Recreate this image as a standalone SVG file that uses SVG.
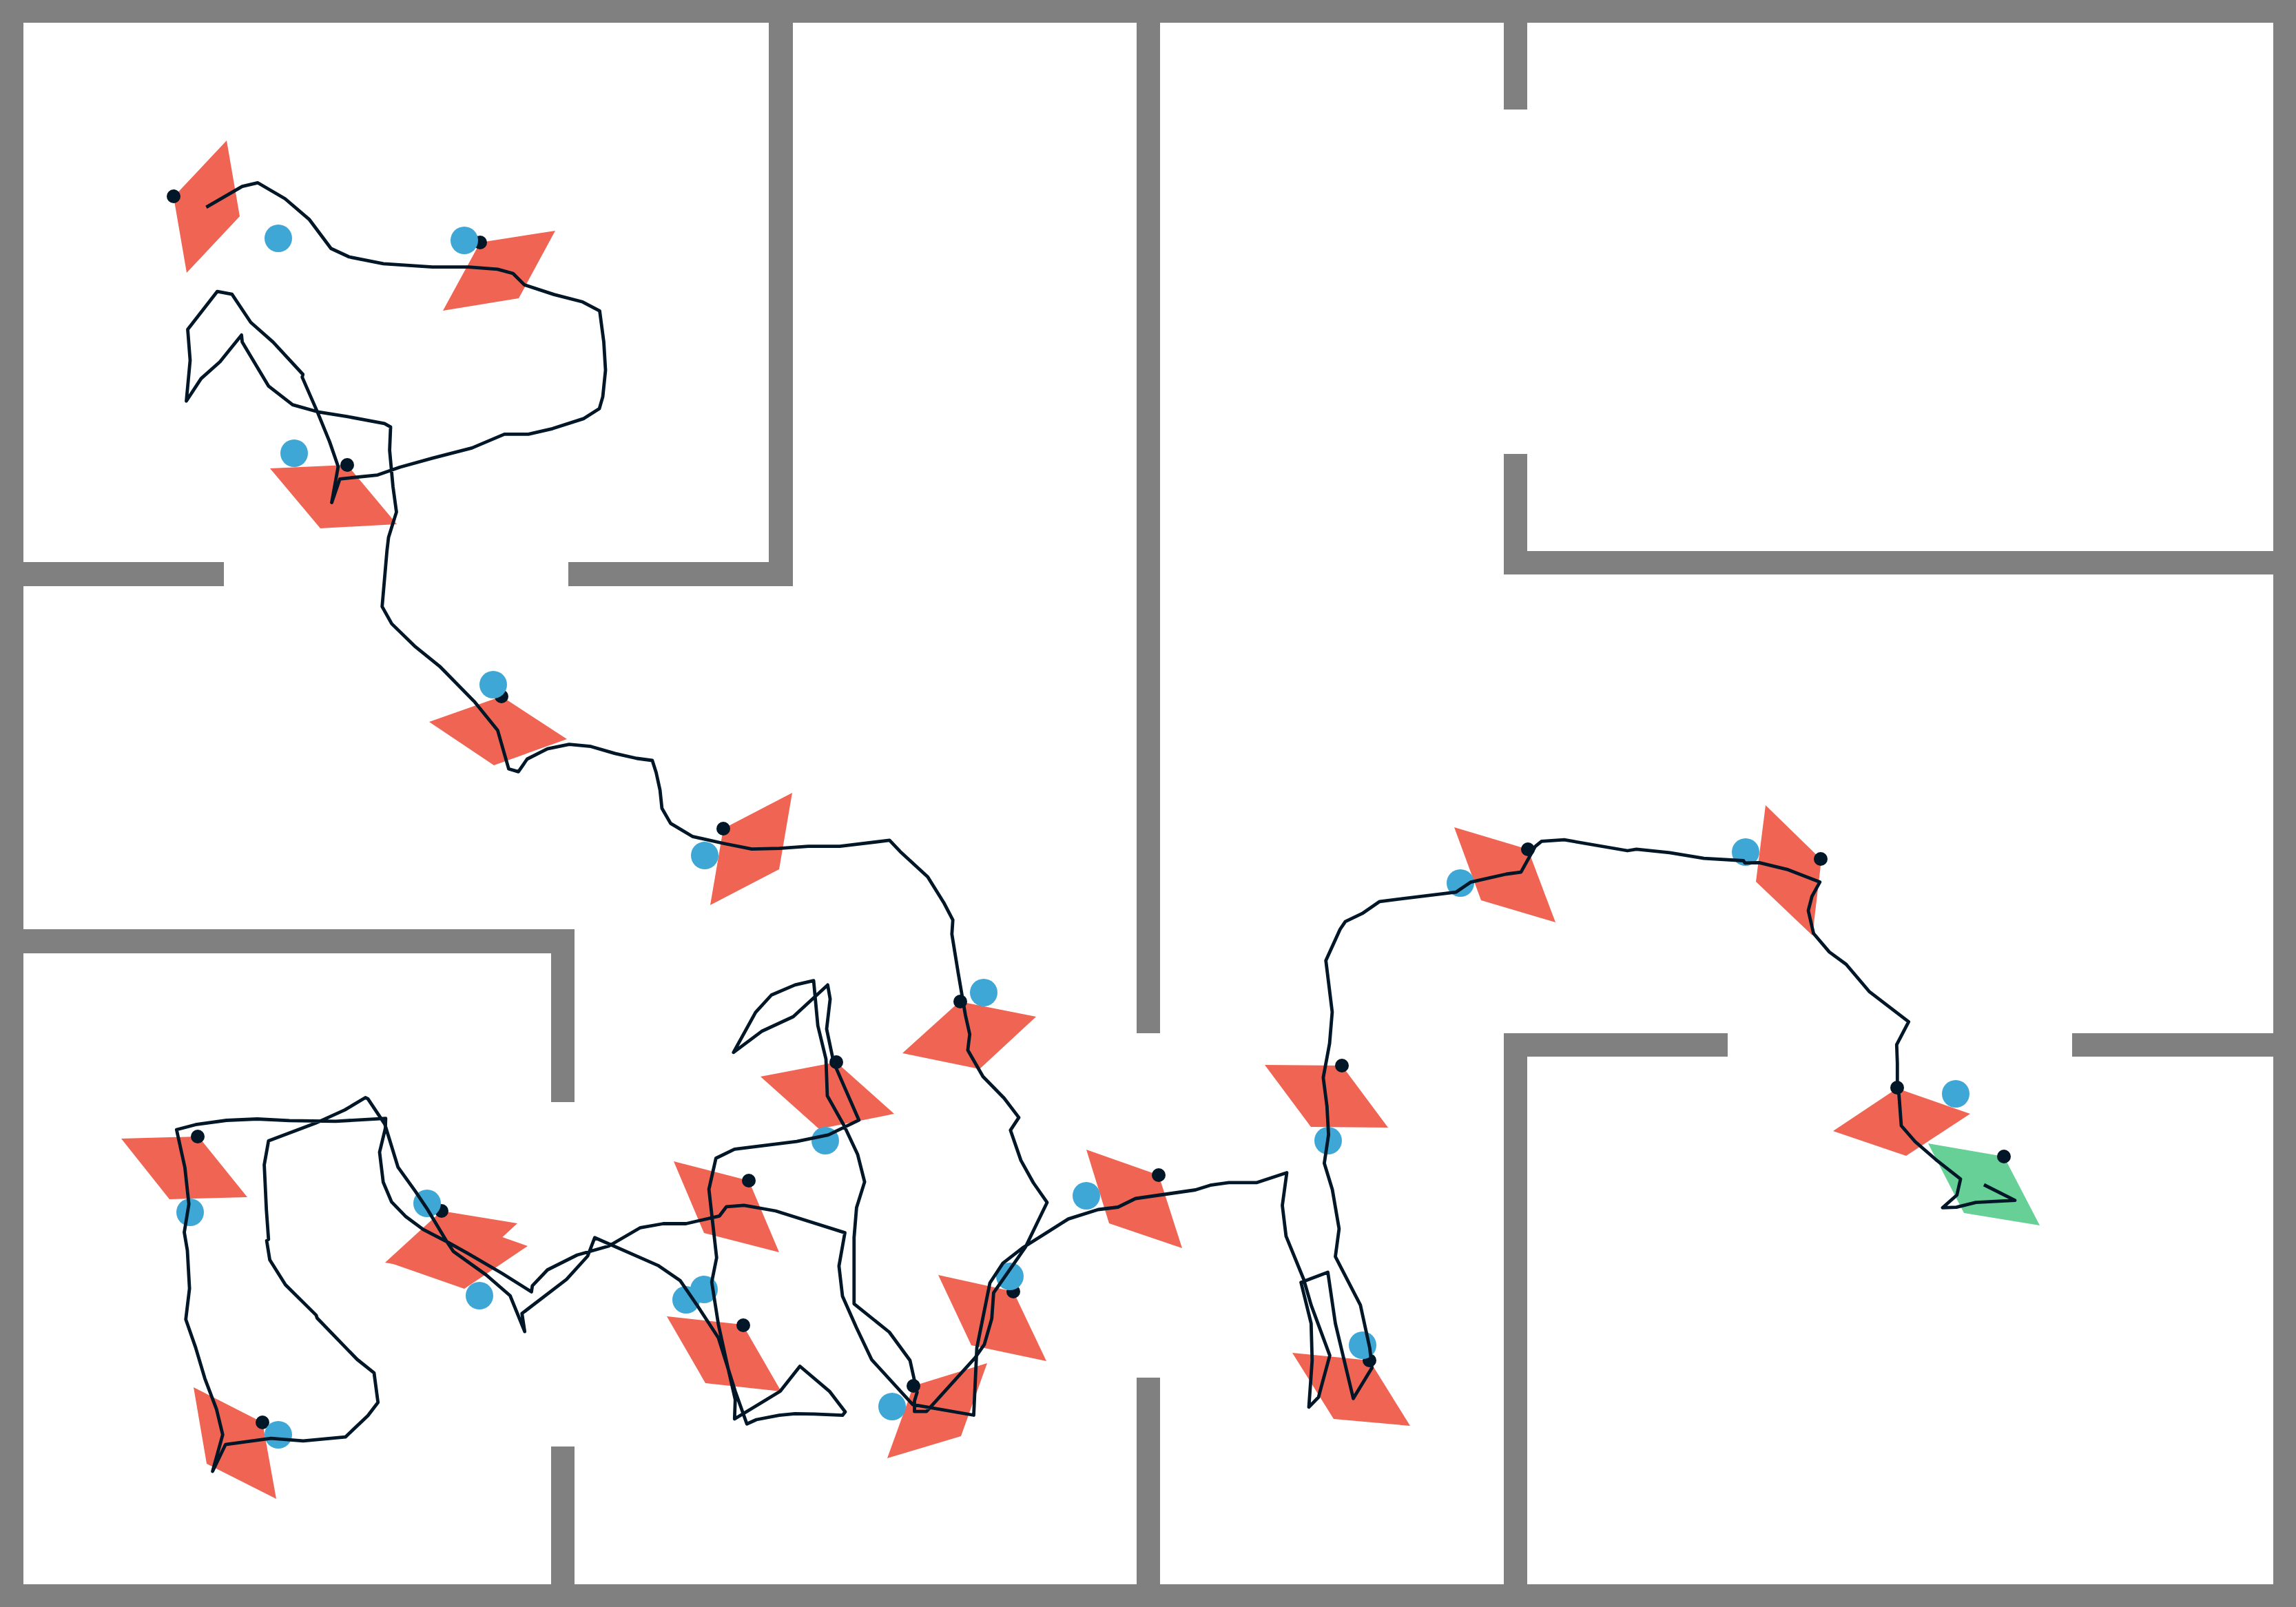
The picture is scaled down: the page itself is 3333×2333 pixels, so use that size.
<svg xmlns="http://www.w3.org/2000/svg" width="3333" height="2333" viewBox="0 0 3333 2333">
<style>
.w{fill:#808080}
.r{fill:#EF6453}
.g{fill:#66D097}
.d{fill:#011627}
.b{fill:#3FA7D6}
.p{fill:none;stroke:#011627;stroke-width:4.8;stroke-linejoin:round}
</style>
<rect width="3333" height="2333" fill="#ffffff"/>
<g id="walls">
<rect class="w" x="0" y="0" width="3333" height="33"/>
<rect class="w" x="0" y="2300" width="3333" height="33"/>
<rect class="w" x="0" y="0" width="34" height="2333"/>
<rect class="w" x="3300" y="0" width="33" height="2333"/>
<rect class="w" x="0" y="816" width="325" height="35"/>
<rect class="w" x="825" y="816" width="326" height="35"/>
<rect class="w" x="1116" y="0" width="35" height="851"/>
<rect class="w" x="1650" y="0" width="34" height="1500"/>
<rect class="w" x="1650" y="2000" width="34" height="333"/>
<rect class="w" x="0" y="1349" width="834" height="35"/>
<rect class="w" x="800" y="1349" width="34" height="251"/>
<rect class="w" x="800" y="2100" width="34" height="233"/>
<rect class="w" x="2183" y="0" width="34" height="159"/>
<rect class="w" x="2183" y="659" width="34" height="175"/>
<rect class="w" x="2183" y="800" width="1150" height="34"/>
<rect class="w" x="2183" y="1500" width="325" height="34"/>
<rect class="w" x="2183" y="1500" width="34" height="833"/>
<rect class="w" x="3008" y="1500" width="325" height="34"/>
</g>
<g id="node-01"><polygon class="r" points="252,286 329,204 348,314 271,396"/><circle class="d" cx="252" cy="285" r="10"/><circle class="b" cx="404" cy="346" r="20"/></g>
<g id="node-02"><polygon class="r" points="697,352 806,335 753,433 643,451"/><circle class="d" cx="697" cy="352" r="10"/><circle class="b" cx="674" cy="349" r="20"/></g>
<g id="node-03"><polygon class="r" points="504,675 392,680 465,767 576,761"/><circle class="d" cx="504" cy="675" r="10"/><circle class="b" cx="427" cy="658" r="20"/></g>
<g id="node-04"><polygon class="r" points="728,1011 823,1073 717,1111 623,1048"/><circle class="d" cx="728" cy="1011" r="10"/><circle class="b" cx="716" cy="994" r="20"/></g>
<g id="node-05"><polygon class="r" points="1050,1203 1150,1151 1131,1262 1031,1314"/><circle class="d" cx="1050" cy="1203" r="10"/><circle class="b" cx="1023" cy="1242" r="20"/></g>
<g id="node-06"><polygon class="r" points="1393,1454 1504,1476 1422,1552 1310,1529"/><circle class="d" cx="1394" cy="1454" r="10"/><circle class="b" cx="1428" cy="1441" r="20"/></g>
<g id="node-07"><polygon class="r" points="1214,1542 1298,1617 1189,1639 1104,1563"/><circle class="d" cx="1214" cy="1542" r="10"/><circle class="b" cx="1198" cy="1656" r="20"/></g>
<g id="node-08"><polygon class="r" points="1087,1714 978,1686 1022,1790 1131,1818"/><circle class="d" cx="1087" cy="1714" r="10"/><circle class="b" cx="1022" cy="1872" r="20"/></g>
<g id="node-09"><polygon class="r" points="1078,1923 968,1911 1024,2008 1134,2020"/><circle class="d" cx="1079" cy="1924" r="10"/><circle class="b" cx="996" cy="1887" r="20"/></g>
<g id="node-10"><polygon class="r" points="661,1772 766,1809 674,1871 568,1834"/><circle class="b" cx="696" cy="1881" r="20"/></g>
<g id="node-11"><polygon class="r" points="641,1758 751,1776 669,1852 559,1833"/><circle class="d" cx="641" cy="1758" r="10"/><circle class="b" cx="620" cy="1747" r="20"/></g>
<g id="node-12"><polygon class="r" points="288,1650 176,1653 246,1741 359,1738"/><circle class="d" cx="287" cy="1650" r="10"/><circle class="b" cx="276" cy="1760" r="20"/></g>
<g id="node-13"><polygon class="r" points="381,2065 281,2014 300,2125 401,2176"/><circle class="d" cx="381" cy="2065" r="10"/><circle class="b" cx="404" cy="2083" r="20"/></g>
<g id="node-14"><polygon class="r" points="1682,1706 1577,1669 1610,1776 1716,1812"/><circle class="d" cx="1682" cy="1706" r="10"/><circle class="b" cx="1577" cy="1736" r="20"/></g>
<g id="node-15"><polygon class="r" points="1471,1875 1362,1851 1410,1953 1519,1976"/><circle class="d" cx="1471" cy="1875" r="10"/><circle class="b" cx="1466" cy="1853" r="20"/></g>
<g id="node-16"><polygon class="r" points="1326,2012 1433,1979 1395,2085 1288,2117"/><circle class="d" cx="1326" cy="2012" r="10"/><circle class="b" cx="1295" cy="2042" r="20"/></g>
<g id="node-17"><polygon class="r" points="1988,1975 1876,1964 1936,2060 2047,2070"/><circle class="d" cx="1988" cy="1975" r="10"/><circle class="b" cx="1978" cy="1953" r="20"/></g>
<g id="node-18"><polygon class="r" points="1948,1547 1836,1546 1903,1636 2015,1637"/><circle class="d" cx="1948" cy="1547" r="10"/><circle class="b" cx="1928" cy="1656" r="20"/></g>
<g id="node-19"><polygon class="r" points="2218,1233 2111,1201 2150,1307 2258,1339"/><circle class="d" cx="2218" cy="1233" r="10"/><circle class="b" cx="2120" cy="1282" r="20"/></g>
<g id="node-20"><polygon class="r" points="2644,1248 2563,1169 2549,1280 2631,1358"/><circle class="d" cx="2643" cy="1247" r="10"/><circle class="b" cx="2534" cy="1237" r="20"/></g>
<g id="node-21"><polygon class="r" points="2754,1580 2661,1642 2767,1678 2860,1617"/><circle class="d" cx="2754" cy="1579" r="10"/><circle class="b" cx="2839" cy="1588" r="20"/></g>
<g id="node-22"><polygon class="g" points="2909,1679 2799,1660 2851,1761 2961,1779"/><circle class="d" cx="2909" cy="1679" r="10"/></g>
<g id="connectors">
<polyline class="p" points="299.4,300.8 351.6,270.6 374,265.3 413.8,288.5 448.7,318.3 480.5,360.7 506.9,373 556.6,382.8 627.8,387.7 680,387.7 722.3,390.9 744.7,397 761.1,413.4 804.4,427.6 845.7,438.3 870.5,451.3 876.5,496.6 879,537.4 875,576.2 870,593.3 847.6,607.6 801.9,622.3 767,630.4 732.2,630.4 685,650.4 627.8,665.1 580.5,678.2 548.2,689.6 493.4,695.3 481.5,729.6 490.9,677.3 478.5,641.4 461,598.6 438.7,547.6 439.7,543.5 396.4,496.6 364,468 336.7,427.2 315.3,423.2 272.5,478.2 276,523.1 270.5,582.3 291.9,549.6 319.3,525.2 350.6,486.4 351.6,496.6 390,560.7 424.8,587.6 461,597.8 503.4,604.7 558.1,614.9 567,619.8 565.6,653.7 570.5,706.7 575.5,743.4 564,780.2 561.7,800 554.7,880.6 568.7,905.6 601.7,937.8 638.2,967.3 689.4,1019.4 722.4,1060.2 738.5,1116.3 752.5,1120.4 765.2,1102 794.6,1087.2 826.2,1080.6 857.8,1083.7 892.8,1093.9 924.4,1101 946.9,1104 952.5,1121.4 958.1,1146.9 960.9,1173.5 973.5,1195.4 1005.1,1214.3 1050.7,1224.5 1091.4,1232.7 1131.4,1231.6 1173.4,1228.6 1219,1228.6 1291.3,1219.9 1306.7,1236.2 1346.7,1273 1369.9,1310.2 1383.2,1335.7 1381.8,1356.1 1390.9,1412.2 1401.4,1473.5 1407.7,1501.5 1404.9,1524.5 1427,1563 1457.6,1594.2 1479,1622.4 1466.8,1640.8 1482,1684.6 1500,1717 1520,1745.7 1488.5,1810.7 1442.4,1876.8 1439.7,1914.3 1428.9,1951.8 1415.3,1971.4 1344.9,2049.2 1327.5,2049.2 1327.5,2033.9 1331.3,2021.4 1321,1975 1291,1934 1239.8,1892.8 1239.8,1796.8 1243.4,1753.2 1255.1,1715.9 1244.9,1675.7 1225.5,1634.5 1201,1590.8 1199,1537.5 1187.2,1489 1181.1,1423.6 1154.1,1429.9 1119.9,1444.5 1096.9,1469.7 1064.8,1527.8 1105.6,1497.3 1151.5,1476 1201.5,1429.9 1205.1,1450.3 1200,1493.9 1210.2,1542.4 1246.9,1626.2 1202.5,1647.6 1156.6,1657.2 1066.3,1668.4 1039.3,1681.5 1029.1,1726.6 1040.3,1825.9 1033.2,1861.3 1042.9,1922.9 1054.6,1976.2 1067.3,2031.9 1066.3,2060 1132.6,2019.8 1161.2,1983.5 1204.1,2019.8 1227,2049.8 1223,2054.7 1182.1,2052.8 1154.1,2052.3 1131.1,2054.7 1098,2061 1084.2,2067.3 1067.3,2019.8 1042.9,1942.3 1011.2,1893.8 987.2,1858.9 955.1,1837.1 863.3,1796.8 853.1,1823.5 822.4,1857.4 757.7,1906.9 761.7,1933.1 740.5,1881 705.9,1851 658.1,1816.8 647.8,1801.2 621,1756.4 603.2,1729.8 577.7,1694.3 558.5,1631.8 534,1595.1 530.4,1593.5 500.5,1611.4 458.1,1630.6 389.8,1656.3 383.6,1691 386.7,1756.3 389.8,1799.2 387.1,1801.2 391.6,1829 414.4,1865.3 459,1909.4 460.3,1913.5 518.4,1973.5 543,1993.1 548.7,2036 534,2055.2 501.4,2086.2 440.2,2091.9 393.4,2088.2 327.3,2097.2 308.6,2136 323.3,2082.9 314.4,2046.2 297.4,2001.3 284,1956.4 269.7,1915.5 275.1,1870.6 272,1815.5 267.5,1789 274.2,1748.2 268.4,1695.1 256.3,1640 284,1632.7 328.7,1626.5 373.3,1624.5 420.2,1626.9 487.1,1627.8 559.9,1623.7 559.4,1638 551,1672.7 556.3,1716.3 568.4,1744.9 588.5,1765.7 614.3,1784.9 650,1803.3 679.1,1819.6 728.2,1848.2 771.5,1875.5 772.8,1866.6 794.8,1843.5 837.8,1822 883.7,1809 929.6,1782.3 962.8,1776.5 995.9,1776.5 1044.4,1765.3 1054.6,1751.8 1080.1,1749.8 1126,1758 1226.5,1789.6 1217.9,1838 1223,1881.7 1243.4,1927.7 1265.3,1973.8 1325,2039.2 1413.5,2054.5 1418,1957 1437,1862.5 1455.9,1833.9 1485.8,1810.7 1550.9,1769.6 1594.2,1756 1622.9,1752.5 1648.4,1740 1735.2,1727.5 1756.9,1720.7 1784,1716.8 1824.7,1716.8 1868,1702.5 1861.5,1750 1866.9,1794.6 1892.4,1857 1903.3,1894.6 1930.4,1967.8 1916.8,2017.8 1914,2028.5 1900,2042.8 1904.8,1975 1903.3,1921.4 1888.6,1861.8 1927.6,1847.1 1938.5,1921.4 1964.5,2030.3 1991.6,1985.7 1988.4,1957 1974.8,1894.6 1938.5,1824.3 1943.9,1783.9 1934.1,1727 1922.4,1688.8 1928.6,1647.4 1926.3,1606 1920.9,1564.5 1930.1,1514.8 1933.9,1469.2 1924.7,1394.6 1945.4,1349 1953,1337.8 1977.5,1326.2 2002.8,1308.8 2113.8,1295.1 2135.2,1280.6 2186.5,1269 2207.9,1266.1 2228.6,1228.8 2237.8,1221.3 2270.7,1219.2 2362.5,1235 2375.5,1232.9 2423.7,1237.9 2473.5,1246.2 2530.9,1249.5 2533.1,1252.8 2553.8,1252.4 2595.9,1262.7 2641.8,1280.6 2630.3,1301.3 2625,1322 2632.7,1355.2 2655.6,1382.1 2680,1400 2713.3,1439.3 2770.7,1483.3 2753.3,1516.7 2754.3,1543.3 2754.3,1579 2756.7,1590 2760,1634.3 2780,1657.3 2810,1683.3 2846,1711.7 2840.7,1735 2820,1753.3 2840,1752.7 2868.3,1745.7 2925,1742.7 2880,1720"/>
</g>
</svg>
